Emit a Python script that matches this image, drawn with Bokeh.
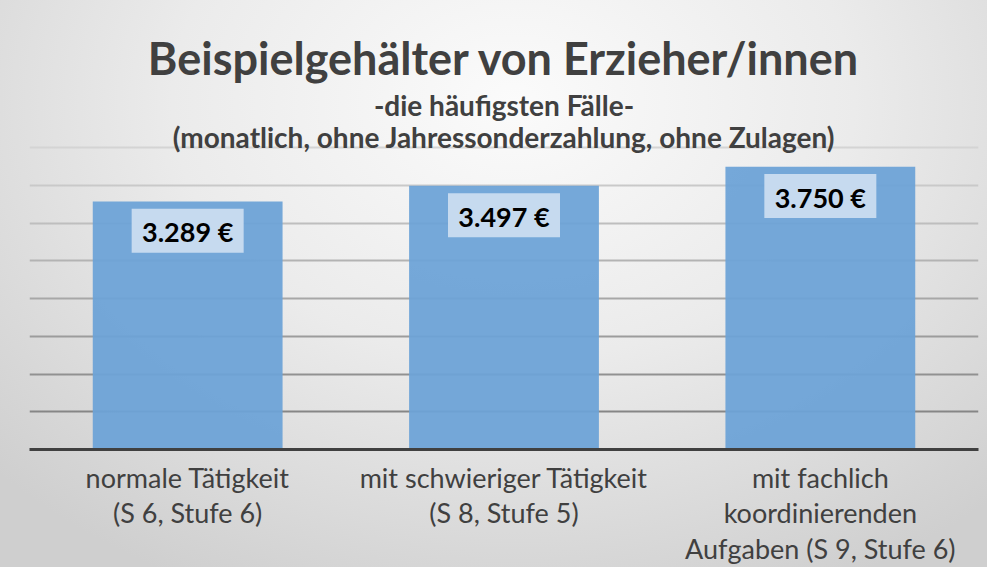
from bokeh.plotting import figure
from bokeh.models import Range1d, FactorRange, Grid, FixedTicker, ColumnDataSource, Label
from bokeh.core.properties import value
from bokeh.embed import file_html
from bokeh.resources import INLINE

# ---- data ----
categories = [
    "normale Tätigkeit\n(S 6, Stufe 6)",
    "mit schwieriger Tätigkeit\n(S 8, Stufe 5)",
    "mit fachlich\nkoordinierenden\nAufgaben (S 9, Stufe 6)",
]
salaries = [3289, 3497, 3750]
grid_ticks = [500, 1000, 1500, 2000, 2500, 3000, 3500, 4000]
title_text = "Beispielgehälter von Erzieher/innen"
subtitle_text = "-die häufigsten Fälle-"
subtitle2_text = "(monatlich, ohne Jahressonderzahlung, ohne Zulagen)"

# ---- layout ----
W, H = 987, 567
frame_left, frame_right = 29, 9
frame_h = 459 - 8                   # frame from figure top to baseline
bottom_border = H - frame_h
grid_top_px = 459 - 156             # pixel height of the 4000 gridline
y_max = 4000 * frame_h / grid_top_px
px_per_unit = grid_top_px / 4000

FONT = "Lato"
TXT = "#404040"

p = figure(
    width=W, height=H,
    x_range=FactorRange(*categories, range_padding=0),
    y_range=Range1d(0, y_max),
    output_backend="svg", toolbar_location=None,
    min_border_left=frame_left, min_border_right=frame_right,
    min_border_top=0, min_border_bottom=bottom_border,
)
p.styles = {
    "background": "radial-gradient(ellipse 72% 95% at 52% 18%, #fbfbfb 0%, #ebebeb 48%, #cfcfcf 100%)",
}
p.border_fill_alpha = 0
p.background_fill_alpha = 0
p.outline_line_color = None

p.xgrid.visible = False
p.ygrid.visible = False
p.yaxis.visible = False

# gridlines, lighter at top, darker at bottom (as in the reference)
n = len(grid_ticks)
for i, t in enumerate(grid_ticks):
    f = i / (n - 1)
    g = int(round(0x86 + f * (0xd4 - 0x86)))
    col = "#%02x%02x%02x" % (g, g, g)
    p.add_layout(Grid(dimension=1, ticker=FixedTicker(ticks=[t]),
                      grid_line_color=col, grid_line_width=2))

# bars
src = ColumnDataSource(dict(
    cat=categories,
    val=salaries,
    label=[f"{v:,}".replace(",", ".") + " €" for v in salaries],
    box_y=[v - 29.5 / px_per_unit for v in salaries],
))
p.vbar(x="cat", top="val", width=0.6, source=src,
       fill_color="#6CA3D7", fill_alpha=0.94, line_color=None)

# value label boxes
p.rect(x="cat", y="box_y", width=112, height=44,
       width_units="screen", height_units="screen", source=src,
       fill_color="#C6DAEF", line_color=None)
p.text(x="cat", y="box_y", text="label", source=src,
       text_font=value(FONT), text_font_style="bold", text_font_size="27px",
       text_color="#000000", text_align="center", text_baseline="middle",
       y_offset=1)

# x axis
ax = p.xaxis[0]
ax.axis_line_color = "#404040"
ax.axis_line_width = 3
ax.major_tick_line_color = None
ax.minor_tick_line_color = None
ax.major_tick_out = 0
ax.major_tick_in = 0
ax.major_label_text_font = FONT
ax.major_label_text_font_size = "27px"
ax.major_label_text_color = TXT
ax.major_label_text_line_height = 1.08
ax.major_label_standoff = 11

# titles (screen units, measured from the frame bottom)
cx = (W - frame_left - frame_right) / 2
def from_page(page_y):
    return frame_h - (page_y - 8)

p.add_layout(Label(x=cx, y=from_page(67), x_units="screen", y_units="screen",
                   text=title_text, text_font=FONT, text_font_style="bold",
                   text_font_size="45px", text_color=TXT,
                   text_align="center", text_baseline="alphabetic"))
p.add_layout(Label(x=cx, y=from_page(114), x_units="screen", y_units="screen",
                   text=subtitle_text, text_font=FONT, text_font_style="bold",
                   text_font_size="28px", text_color=TXT,
                   text_align="center", text_baseline="alphabetic"))
p.add_layout(Label(x=cx, y=from_page(146), x_units="screen", y_units="screen",
                   text=subtitle2_text, text_font=FONT, text_font_style="bold",
                   text_font_size="28px", text_color=TXT,
                   text_align="center", text_baseline="alphabetic"))

open("out.html", "w").write(file_html(p, INLINE))
